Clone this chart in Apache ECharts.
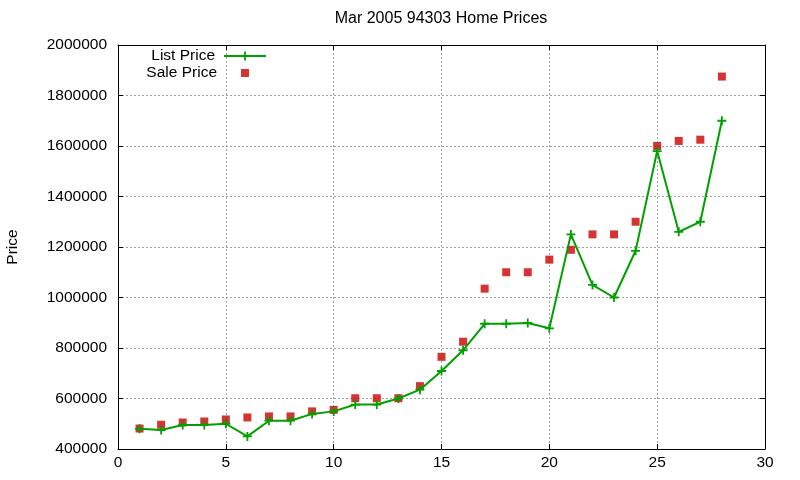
<!DOCTYPE html>
<html>
<head>
<meta charset="utf-8">
<title>Mar 2005 94303 Home Prices</title>
<script src="https://cdn.jsdelivr.net/npm/echarts@6/dist/echarts.min.js"></script>
<style>
  html, body { margin: 0; padding: 0; background: #fff; }
  #chart { width: 800px; height: 480px; }
</style>
</head>
<body>
<div id="chart"></div>
<script>
// 房号 1..28，按价格排序
const homeIndex = [1, 2, 3, 4, 5, 6, 7, 8, 9, 10, 11, 12, 13, 14,
  15, 16, 17, 18, 19, 20, 21, 22, 23, 24, 25, 26, 27, 28];

const listPrice = [480000, 475000, 495000, 495000, 500000, 450000, 512000,
  512000, 539000, 549000, 576000, 576000, 600000, 635000, 709000, 791000,
  896000, 896000, 899000, 878000, 1250000, 1050000, 1000000, 1185000,
  1580000, 1260000, 1300000, 1700000];

const salePrice = [481000, 496000, 505000, 509000, 517000, 525000, 529000,
  529000, 549000, 555000, 601000, 601000, 601000, 649000, 765000, 825000,
  1035000, 1100000, 1100000, 1150000, 1189000, 1250000, 1250000, 1300000,
  1600000, 1620000, 1625000, 1875000];

const xTicks = { min: 0, max: 30, interval: 5 };
const yTicks = { min: 400000, max: 2000000, interval: 200000 };

const FONT = 'Liberation Sans';
const FS = 15.5;
const GREEN = '#00a000';
const RED = '#cc0000';
const PLUS = 'path://M4,0H6V4H10V6H6V10H4V6H0V4H4Z';

const gridLine = { show: true, lineStyle: { color: '#a0a0a0', type: [2, 2], width: 1 } };
const border = { show: true, onZero: false, lineStyle: { color: '#000', width: 1 } };
const tickIn = { show: true, inside: true, length: 5, lineStyle: { color: '#000' } };

const chart = echarts.init(document.getElementById('chart'));

chart.setOption({
  animation: false,
  backgroundColor: '#fff',
  textStyle: { fontFamily: FONT },
  title: {
    text: 'Mar 2005 94303 Home Prices',
    left: 441,
    textAlign: 'center',
    top: 11,
    padding: 0,
    textStyle: { fontFamily: FONT, fontSize: 16, fontWeight: 'normal', color: '#000' }
  },
  legend: [{
    data: ['List Price'],
    right: 533,
    top: 48,
    padding: 0,
    align: 'right',
    itemWidth: 42,
    itemHeight: 11,
    textStyle: { fontFamily: FONT, fontSize: FS, color: '#000', padding: [0, 4, 0, 0] }
  }, {
    data: [{ name: 'Sale Price', icon: 'path://M0,0H8V8H0Z' }],
    right: 551,
    top: 65,
    padding: 0,
    align: 'right',
    itemWidth: 42,
    itemHeight: 8,
    textStyle: { fontFamily: FONT, fontSize: FS, color: '#000', padding: [0, 2, 0, 0] }
  }],
  grid: { left: 118, right: 35, top: 45, bottom: 31, outerBoundsMode: 'none' },
  xAxis: [{
    type: 'value',
    ...xTicks,
    axisLine: border,
    axisTick: tickIn,
    axisLabel: { color: '#000', fontSize: FS, margin: 6 },
    splitLine: gridLine
  }, {
    type: 'value',
    position: 'top',
    ...xTicks,
    axisLine: border,
    axisTick: tickIn,
    axisLabel: { show: false },
    splitLine: { show: false }
  }],
  yAxis: [{
    type: 'value',
    ...yTicks,
    name: 'Price',
    nameLocation: 'middle',
    nameRotate: 90,
    nameGap: 97,
    nameTextStyle: { fontFamily: FONT, fontSize: FS, color: '#000' },
    axisLine: border,
    axisTick: tickIn,
    axisLabel: { color: '#000', fontSize: FS, margin: 11, formatter: v => String(v) },
    splitLine: gridLine
  }, {
    type: 'value',
    position: 'right',
    ...yTicks,
    axisLine: border,
    axisTick: tickIn,
    axisLabel: { show: false },
    splitLine: { show: false }
  }],
  series: [{
    name: 'List Price',
    type: 'line',
    data: homeIndex.map((x, i) => [x, listPrice[i]]),
    symbol: PLUS,
    symbolSize: 9,
    showAllSymbol: true,
    color: GREEN,
    lineStyle: { color: GREEN, width: 2 },
    itemStyle: { color: GREEN, borderWidth: 0 },
    z: 3
  }, {
    name: 'Sale Price',
    type: 'scatter',
    data: homeIndex.map((x, i) => [x, salePrice[i]]),
    symbol: 'rect',
    symbolSize: 8,
    color: RED,
    itemStyle: { color: RED },
    z: 2
  }]
});
</script>
</body>
</html>
